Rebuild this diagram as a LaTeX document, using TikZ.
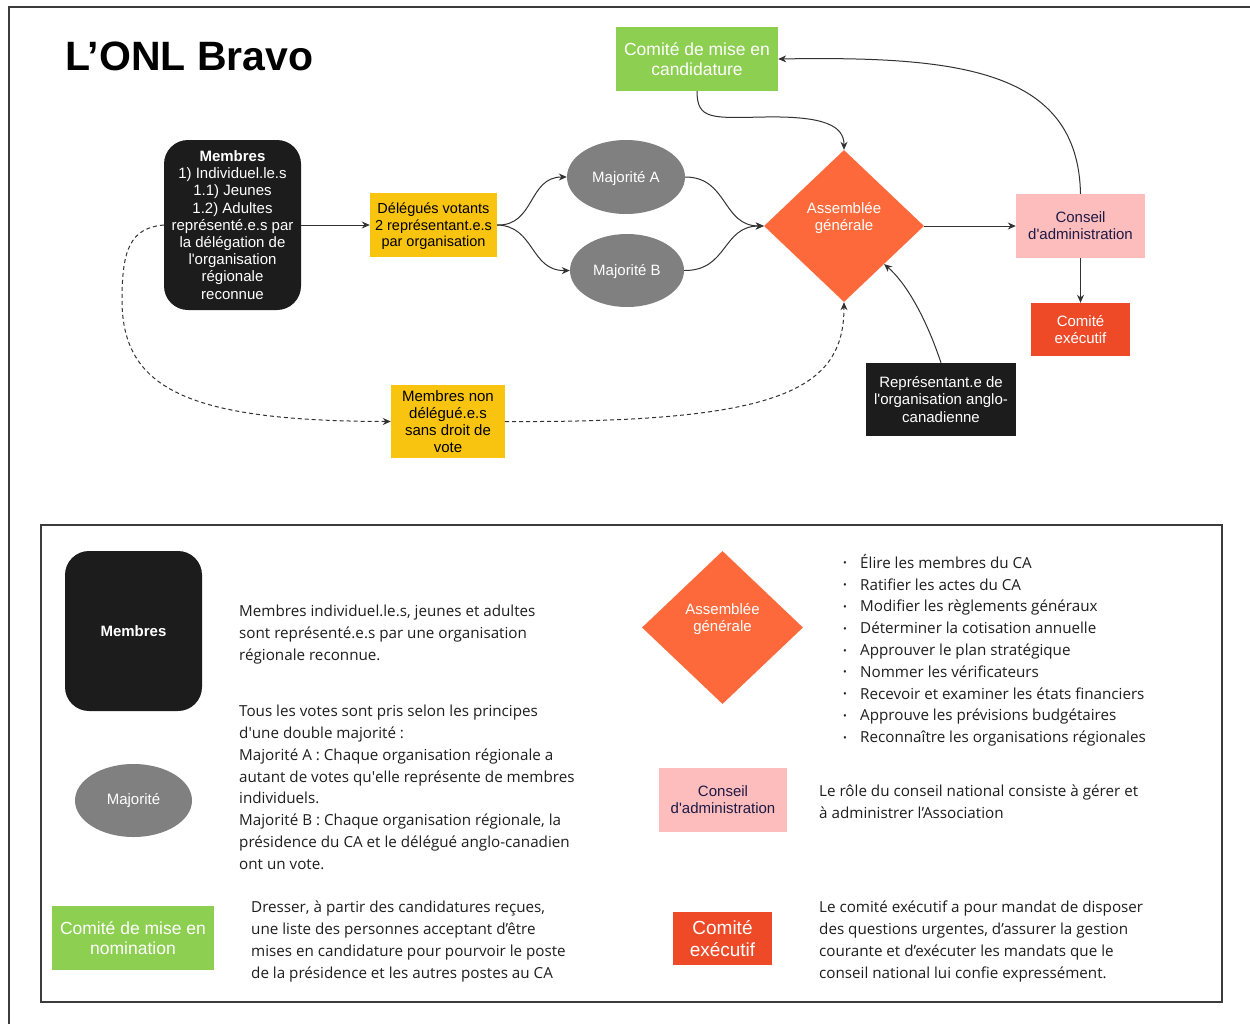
\documentclass[tikz,border=0pt]{standalone}
\usepackage{fontspec}
\setmainfont{Liberation Sans}
\newfontfamily\osans{Open Sans}
\usetikzlibrary{shapes.geometric,arrows.meta}

\definecolor{nodeblack}{RGB}{28,28,28}
\definecolor{ayellow}{RGB}{249,196,16}
\definecolor{agray}{RGB}{128,128,128}
\definecolor{aorange}{RGB}{253,105,58}
\definecolor{agreen}{RGB}{141,207,80}
\definecolor{apink}{RGB}{254,189,189}
\definecolor{ared}{RGB}{238,74,40}
\definecolor{anavy}{RGB}{30,26,70}
\definecolor{lineg}{RGB}{50,50,50}
\definecolor{frameg}{RGB}{60,60,60}
\definecolor{txtg}{RGB}{30,30,30}

\newcommand\setfs[2]{\fontsize{#1}{#2}\selectfont}
\newcommand\sq{\textquotesingle}
\newcommand\bul{\makebox[17pt][l]{\raisebox{1.5pt}{\setfs{10}{10}•}}}

\begin{document}
\begin{tikzpicture}[x=1pt,y=-1pt,
  box/.style={inner sep=0pt, align=center, font=\setfs{15}{17.2}},
  darkbox/.style={box, fill=nodeblack, text=white},
  yelbox/.style={box, fill=ayellow, text=black, font=\setfs{14.5}{16.6}},
  majo/.style={box, ellipse, fill=agray, text=white},
  diam/.style={box, diamond, fill=aorange, text=white},
  greenbox/.style={box, fill=agreen, text=white, font=\setfs{17.5}{20}},
  pinkbox/.style={box, fill=apink, text=anavy},
  redbox/.style={box, fill=ared, text=white},
  arr/.style={draw=lineg, line width=1pt, -{Stealth[length=8pt,width=7pt]}},
  dasharr/.style={arr, dash pattern=on 4pt off 3pt},
  legtext/.style={inner sep=0pt, anchor=north west, align=left, text=txtg,
    font=\osans\setfs{15.2}{21.8}},
]
\useasboundingbox (0,0) rectangle (1250,1023);
\fill[white] (0,0) rectangle (1250,1023);

% outer frame and legend frame
\draw[frameg, line width=2pt] (9,1030) -- (9,7) -- (1260,7);
\draw[frameg, line width=2pt] (41,525) rectangle (1222,1002);

% title
\node[inner sep=0pt, anchor=west, font=\bfseries\setfs{41}{46}] (title) at (65,56) {L’ONL Bravo};

% ---------- flow ----------
\node[darkbox, rounded corners=24pt, minimum width=137pt, minimum height=170pt] (mem) at (232.5,225)
  {\textbf{Membres}\\1) Individuel.le.s\\1.1) Jeunes\\1.2) Adultes\\représenté.e.s par\\la délégation de\\l\sq organisation\\régionale\\reconnue};
\node[yelbox, minimum width=127pt, minimum height=64pt] (del) at (433.5,225) {};
\node[box, font=\setfs{14.5}{16.6}] (delt) at (433.5,226.5)
  {Délégués votants\\2 représentant.e.s\\par organisation};
\node[majo, minimum width=118pt, minimum height=74pt] (maja) at (626,177) {};
\node[box, text=white] (majat) at (626,178.5) {Majorité A};
\node[majo, minimum width=114pt, minimum height=73pt] (majb) at (627,270.5) {};
\node[box, text=white] (majbt) at (627,271.5) {Majorité B};
\node[diam, minimum width=160pt, minimum height=152pt] (ag) at (844,226) {};
\node[box, text=white] (agt) at (844,218) {Assemblée\\générale};
\node[greenbox, minimum width=162pt, minimum height=64pt] (cmc) at (697,59) {Comité de mise en\\candidature};
\node[pinkbox, minimum width=129pt, minimum height=64pt] (ca) at (1080.5,226) {Conseil\\d\sq administration};
\node[redbox, minimum width=99pt, minimum height=53pt] (ce) at (1080.5,329.5) {Comité\\exécutif};
\node[darkbox, minimum width=150pt, minimum height=73pt] (rep) at (941,399.5)
  {Représentant.e de\\l\sq organisation anglo-\\canadienne};
\node[yelbox, font=\setfs{15}{17}, minimum width=114pt, minimum height=73pt] (mnd) at (448,421.5)
  {Membres non\\délégué.e.s\\sans droit de\\vote};

% connectors
\draw[arr] (mem.east) -- (del.west);
\draw[arr] (del.east) .. controls (535,226) and (528,177) .. (maja.west);
\draw[arr] (del.east) .. controls (535,226) and (530,271) .. (majb.west);
\draw[arr] (maja.east) .. controls (728,177) and (722,226) .. (ag.west);
\draw[arr] (majb.east) .. controls (728,271) and (722,226) .. (ag.west);
\draw[arr] (ag.east) -- (ca.west);
\draw[arr] (ca.south) -- (ce.north);
\draw[arr] (ca.north) .. controls (1078,70) and (960,56) .. (cmc.east);
\coordinate (cm) at (765,117);
\draw[arr] (cmc.south) .. controls (697,120) and (712,118) .. (cm)
  .. controls (825,116) and (844,126) .. (ag.north);
\draw[arr] (rep.north) .. controls (925,315) and (905,282) .. (ag.south east);
\coordinate (dl) at (122,300);
\draw[dasharr] (mem.west) .. controls (130,228) and (122,250) .. (dl)
  .. controls (122,390) and (190,421) .. (mnd.west);
\draw[dasharr] (mnd.east) .. controls (780,423) and (844,390) .. (ag.south);

% ---------- legend ----------
\node[darkbox, font=\bfseries\setfs{15}{17}, rounded corners=24pt, minimum width=137pt, minimum height=160pt] (lmem) at (133.5,631) {Membres};
\node[majo, minimum width=117pt, minimum height=73pt] (lmaj) at (133.5,800.5) {Majorité};
\node[greenbox, minimum width=162pt, minimum height=64pt] (lcmn) at (133,938) {Comité de mise en\\nomination};
\node[diam, minimum width=161pt, minimum height=153pt] (lag) at (722.5,627.5) {};
\node[box, text=white] (lagt) at (722.5,619) {Assemblée\\générale};
\node[pinkbox, minimum width=128pt, minimum height=64pt] (lca) at (723,800) {Conseil\\d\sq administration};
\node[redbox, font=\setfs{19}{22}, minimum width=99pt, minimum height=53pt] (lce) at (722.5,938.5) {Comité\\exécutif};

\node[legtext] (tmem) at (239,605)
  {Membres individuel.le.s, jeunes et adultes\\sont représenté.e.s par une organisation\\régionale reconnue.};
\node[legtext] (tmaj) at (239,705)
  {Tous les votes sont pris selon les principes\\d\sq une double majorité :\\Majorité A : Chaque organisation régionale a\\autant de votes qu\sq elle représente de membres\\individuels.\\Majorité B : Chaque organisation régionale, la\\présidence du CA et le délégué anglo-canadien\\ont un vote.};
\node[legtext] (tcmn) at (251,901)
  {Dresser, à partir des candidatures reçues,\\une liste des personnes acceptant d’être\\mises en candidature pour pourvoir le poste\\de la présidence et les autres postes au CA};
\node[legtext] (tag) at (843,554)
  {\bul Élire les membres du CA\\
   \bul Ratifier les actes du CA\\
   \bul Modifier les règlements généraux\\
   \bul Déterminer la cotisation annuelle\\
   \bul Approuver le plan stratégique\\
   \bul Nommer les vérificateurs\\
   \bul Recevoir et examiner les états financiers\\
   \bul Approuve les prévisions budgétaires\\
   \bul Reconnaître les organisations régionales};
\node[legtext] (tca) at (819,785)
  {Le rôle du conseil national consiste à gérer et\\à administrer l’Association};
\node[legtext] (tce) at (819,901)
  {Le comité exécutif a pour mandat de disposer\\des questions urgentes, d’assurer la gestion\\courante et d’exécuter les mandats que le\\conseil national lui confie expressément.};
\end{tikzpicture}
\end{document}
